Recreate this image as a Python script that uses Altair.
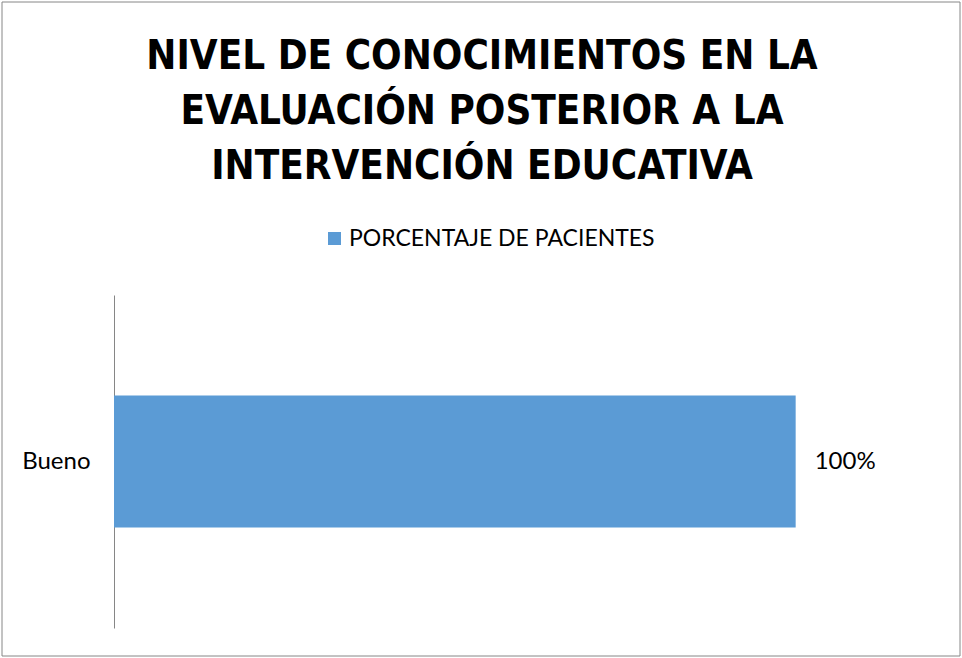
import altair as alt
import pandas as pd

categories = ["Bueno"]
values = [1.0]
labels = ["100%"]
series = ["PORCENTAJE DE PACIENTES"]

df = pd.DataFrame({"nivel": categories, "valor": values, "etiqueta": labels, "serie": series * len(categories)})

title_lines = ["NIVEL DE CONOCIMIENTOS EN LA", "EVALUACIÓN POSTERIOR A LA", "INTERVENCIÓN EDUCATIVA"]

base = alt.Chart(df)

x_enc = alt.X("valor:Q", scale=alt.Scale(domain=[0, 1.2], nice=False, zero=True), axis=None)
y_enc = alt.Y("nivel:N", sort=None,
              scale=alt.Scale(paddingInner=0, paddingOuter=0.76),
              axis=alt.Axis(title=None, ticks=False, labelPadding=24, labelFont="Lato",
                            labelFontSize=24, labelColor="#000000", domainColor="#868686",
                            domainWidth=1, grid=False))

bars = base.mark_bar(color="#5B9BD5").encode(
    x=x_enc, y=y_enc,
    color=alt.Color("serie:N", scale=alt.Scale(range=["#5B9BD5"]),
                    legend=alt.Legend(title=None, orient="none", legendX=209, legendY=-68,
                                      symbolType="square", symbolSize=169, symbolStrokeWidth=0,
                                      labelFont="Lato", labelFontSize=23, labelColor="#000000",
                                      labelOffset=3, labelLimit=600)),
)

text = base.mark_text(align="left", baseline="middle", dx=19, font="Lato", fontSize=24, color="#000000").encode(
    x=x_enc, y=alt.Y("nivel:N", sort=None), text="etiqueta:N"
)

border = base.mark_rect(fill=None, stroke="#868686", strokeWidth=1).encode(
    x=alt.value(-112), x2=alt.value(846), y=alt.value(-293), y2=alt.value(361)
)

chart = alt.layer(bars, text, border).properties(
    width=818, height=333,
    background="#ffffff",
    title=alt.TitleParams(text=title_lines, font="DejaVu Sans Condensed", fontWeight="bold",
                          fontSize=40, lineHeight=55, color="#000000", anchor="middle",
                          dx=-41, offset=-185),
    autosize=alt.AutoSizeParams(type="none"),
    padding={"left": 114, "top": 295, "right": 30, "bottom": 30},
).configure_view(strokeWidth=0, stroke="transparent")

chart.save("out.html", embed_options={"renderer": "svg", "actions": False})
